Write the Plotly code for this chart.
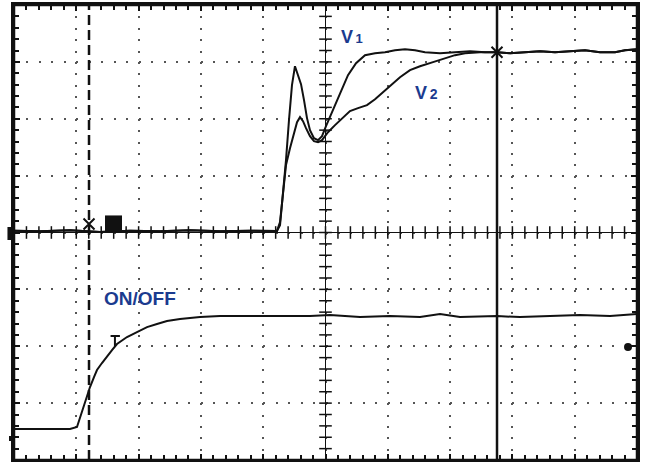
import numpy as np
import plotly.graph_objects as go

# ---- data (oscilloscope divisions: x 0..10, y 0..8) ----
base_t = [0.0, 0.42, 0.90, 1.38, 1.86, 2.34, 2.83, 3.31, 3.79, 4.221]
base_v = [4.03, 4.02, 4.04, 4.01, 4.03, 4.02, 4.04, 4.02, 4.03, 4.025]

v1_t = [4.270, 4.318, 4.366, 4.414, 4.462, 4.510, 4.559, 4.607, 4.655, 4.703,
        4.751, 4.815, 4.880, 4.944, 5.008, 5.104, 5.233, 5.361, 5.490, 5.634,
        5.795, 5.955, 6.116, 6.276, 6.437, 6.597, 6.838, 7.079, 7.319, 7.560,
        7.753, 7.961, 8.202, 8.443, 8.684, 8.925, 9.165, 9.406, 9.647, 9.807, 10.0]
v1_v = [4.130, 4.657, 5.272, 5.975, 6.591, 6.924, 6.766, 6.608, 6.327, 6.011,
        5.800, 5.659, 5.624, 5.694, 5.870, 6.116, 6.467, 6.766, 6.977, 7.118,
        7.153, 7.170, 7.206, 7.223, 7.206, 7.170, 7.153, 7.170, 7.188, 7.170,
        7.170, 7.153, 7.170, 7.188, 7.170, 7.188, 7.206, 7.170, 7.170, 7.206, 7.223]

v2_t = [4.270, 4.318, 4.366, 4.430, 4.494, 4.543, 4.591, 4.639, 4.687, 4.751,
        4.815, 4.880, 4.944, 5.040, 5.153, 5.265, 5.393, 5.522, 5.666, 5.795,
        5.923, 6.067, 6.196, 6.356, 6.517, 6.726, 6.918, 7.079, 7.239, 7.480,
        7.753, 7.961, 8.202, 8.443, 8.684, 8.925, 9.165, 9.406, 9.647, 9.807, 10.0]
v2_v = [4.183, 4.657, 5.185, 5.483, 5.729, 5.940, 6.028, 5.958, 5.835, 5.694,
        5.606, 5.589, 5.624, 5.764, 5.888, 6.011, 6.134, 6.186, 6.239, 6.344,
        6.467, 6.608, 6.731, 6.854, 6.924, 6.995, 7.065, 7.118, 7.153, 7.170,
        7.170, 7.153, 7.170, 7.188, 7.170, 7.188, 7.206, 7.170, 7.170, 7.206, 7.223]

onoff_t = [0.0, 0.257, 0.578, 0.899, 1.011, 1.059, 1.108, 1.172, 1.220, 1.284,
           1.332, 1.412, 1.493, 1.573, 1.653, 1.734, 1.814, 1.974, 2.135, 2.295,
           2.456, 2.665, 2.986, 3.307, 3.788, 4.270, 4.751, 5.072, 5.554, 6.035,
           6.517, 6.838, 7.159, 7.753, 8.122, 8.604, 9.085, 9.567, 10.0]
onoff_v = [0.545, 0.545, 0.540, 0.545, 0.580, 0.738, 0.931, 1.125, 1.283, 1.459,
           1.582, 1.705, 1.810, 1.933, 2.039, 2.109, 2.162, 2.250, 2.337, 2.390,
           2.443, 2.478, 2.513, 2.531, 2.531, 2.531, 2.531, 2.548, 2.513, 2.531,
           2.513, 2.566, 2.513, 2.531, 2.513, 2.531, 2.548, 2.531, 2.566]

trigger_t = 1.204      # dashed trigger line
cursor_t = 7.753       # solid cursor line
cursor_v = 7.170

labels = ["V<span style='font-size:13px'>\u20091</span>",
          "V<span style='font-size:14px'>\u20092</span>",
          "ON/OFF"]
label_x = [5.43, 6.62, 2.02]
label_y = [7.43, 6.45, 2.84]
label_size = [18, 18, 19]

W, H = 647, 462
L, R, T, B = 14, 10, 5, 2
ink = "#111111"
navy = "#1b3b8f"

fig = go.Figure()

# center graticule crossbar ticks
minor = np.round(np.arange(0, 10.001, 0.2), 3)
minor_y = np.round(np.arange(0, 8.001, 0.2), 3)
fig.add_trace(go.Scatter(x=[5.0] * len(minor_y), y=minor_y, mode="markers",
                         marker=dict(symbol="line-ew", size=9, line=dict(width=1.5, color=ink)),
                         hoverinfo="skip", showlegend=False))
fig.add_trace(go.Scatter(x=minor, y=[4.0] * len(minor), mode="markers",
                         marker=dict(symbol="line-ns", size=9, line=dict(width=1.5, color=ink)),
                         hoverinfo="skip", showlegend=False))

line_style = dict(color=ink, width=2)
fig.add_trace(go.Scatter(x=base_t + v1_t, y=base_v + v1_v, mode="lines",
                         line=line_style, name="V1", showlegend=False))
fig.add_trace(go.Scatter(x=base_t + v2_t, y=base_v + v2_v, mode="lines",
                         line=line_style, name="V2", showlegend=False))
fig.add_trace(go.Scatter(x=onoff_t, y=onoff_v, mode="lines",
                         line=line_style, name="ON/OFF", showlegend=False))

# scope markers
fig.add_trace(go.Scatter(x=[trigger_t, cursor_t], y=[4.15, cursor_v], mode="markers",
                         marker=dict(symbol="x-thin", size=11, line=dict(width=2, color=ink)),
                         hoverinfo="skip", showlegend=False))
fig.add_trace(go.Scatter(x=[9.856], y=[1.986], mode="markers",
                         marker=dict(symbol="circle", size=8, color=ink),
                         hoverinfo="skip", showlegend=False))

shapes = []
# center lines (thin)
shapes.append(dict(type="line", x0=5, x1=5, y0=0, y1=8, xref="x", yref="y",
                   line=dict(color=ink, width=1)))
shapes.append(dict(type="line", x0=0, x1=10, y0=4, y1=4, xref="x", yref="y",
                   line=dict(color=ink, width=1)))
# trigger dashed line
shapes.append(dict(type="line", x0=trigger_t, x1=trigger_t, y0=0, y1=8, xref="x", yref="y",
                   line=dict(color=ink, width=2.5, dash="10px,5px")))
# cursor line
shapes.append(dict(type="line", x0=cursor_t, x1=cursor_t, y0=0, y1=8, xref="x", yref="y",
                   line=dict(color=ink, width=2.5)))
# small filled block on baseline
shapes.append(dict(type="rect", x0=1.461, x1=1.734, y0=4.01, y1=4.30, xref="x", yref="y",
                   fillcolor=ink, line=dict(width=0)))
# T marker on ON/OFF trace
shapes.append(dict(type="line", x0=1.55, x1=1.70, y0=2.18, y1=2.18, xref="x", yref="y",
                   line=dict(color=ink, width=2)))
shapes.append(dict(type="line", x0=1.62, x1=1.62, y0=2.18, y1=2.0, xref="x", yref="y",
                   line=dict(color=ink, width=2)))
# left-edge ground markers
shapes.append(dict(type="rect", x0=-0.0105, x1=0, y0=(462 - 240 - B) / (H - T - B),
                   y1=(462 - 227 - B) / (H - T - B), xref="paper", yref="paper",
                   fillcolor=ink, line=dict(width=0)))
shapes.append(dict(type="rect", x0=-0.008, x1=0, y0=(462 - 441 - B) / (H - T - B),
                   y1=(462 - 436 - B) / (H - T - B), xref="paper", yref="paper",
                   fillcolor=ink, line=dict(width=0)))
# frame
shapes.append(dict(type="rect", x0=0, x1=1, y0=0, y1=1, xref="paper", yref="paper",
                   line=dict(color=ink, width=2.5)))
fig.update_layout(shapes=shapes)

for txt, lx, ly, fs in zip(labels, label_x, label_y, label_size):
    fig.add_annotation(x=lx, y=ly, xref="x", yref="y", text=txt, showarrow=False,
                       font=dict(family="Liberation Sans, Arial", size=fs, color=navy, weight="bold"))

px_per_div_y = (H - T - B) / 8
px_per_div_x = (W - L - R) / 10
fig.update_xaxes(range=[0, 10], dtick=1, tick0=0, showticklabels=False,
                 ticks="inside", ticklen=6, tickwidth=1.5, tickcolor=ink,
                 minor=dict(dtick=0.2, ticks="inside", ticklen=5, tickwidth=1.5, tickcolor=ink, showgrid=False),
                 showgrid=True, gridcolor="#555555", gridwidth=2,
                 griddash=f"2px,{0.2 * px_per_div_y - 2:.2f}px",
                 zeroline=False, showline=True, linecolor=ink, linewidth=2.5, mirror="ticks")
fig.update_yaxes(range=[0, 8], dtick=1, tick0=0, showticklabels=False,
                 ticks="inside", ticklen=6, tickwidth=1.5, tickcolor=ink,
                 minor=dict(dtick=0.2, ticks="inside", ticklen=5, tickwidth=1.5, tickcolor=ink, showgrid=False),
                 showgrid=True, gridcolor="#555555", gridwidth=2,
                 griddash=f"2px,{0.2 * px_per_div_x - 2:.2f}px",
                 zeroline=False, showline=True, linecolor=ink, linewidth=2.5, mirror="ticks")

fig.update_layout(width=W, height=H, margin=dict(l=L, r=R, t=T, b=B),
                  paper_bgcolor="white", plot_bgcolor="white", showlegend=False)

fig.write_html("out.html", config={"displayModeBar": False},
               post_script="document.body.style.margin='0';document.body.style.padding='0';"
                           "document.documentElement.style.overflow='hidden';")
